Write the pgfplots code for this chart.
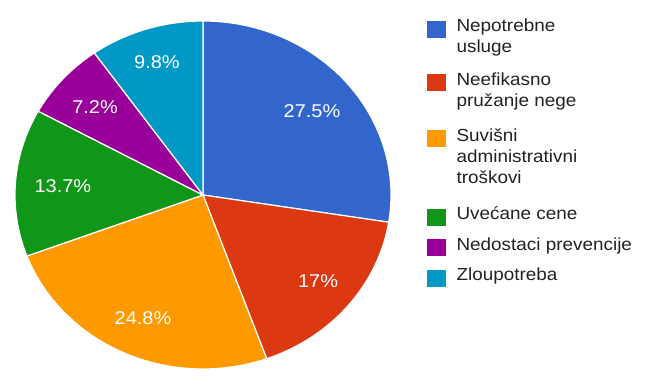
\documentclass[border=0pt]{standalone}
\usepackage{fontspec}
\setmainfont{Liberation Sans}[FakeStretch=1.08]
\usepackage{pgfplots}
\pgfplotsset{compat=1.18}
\definecolor{c1}{HTML}{3366CC}
\definecolor{c2}{HTML}{DC3912}
\definecolor{c3}{HTML}{FF9900}
\definecolor{c4}{HTML}{109618}
\definecolor{c5}{HTML}{990099}
\definecolor{c6}{HTML}{0099C6}
\definecolor{txt}{HTML}{222222}
\newcommand{\one}[1]{\vtop{\hbox{\strut #1}}}
\newcommand{\two}[2]{\vtop{\hbox{\strut #1}\hbox{\strut #2}}}
\newcommand{\three}[3]{\vtop{\hbox{\strut #1}\hbox{\strut #2}\hbox{\strut #3}}}
\pgfplotsset{
  sq/.style={legend image code/.code={\fill[##1, draw=none] (0bp,-6bp) rectangle (19bp,11bp); \path (0bp,-#1) -- (0bp,11bp);}},
}
\begin{document}
\begin{tikzpicture}
\begin{axis}[
  at={(15bp,20bp)}, anchor=south west,
  scale only axis, width=376bp, height=348bp,
  xmin=-1, xmax=1, ymin=-1, ymax=1,
  hide axis, clip=false,
  legend style={at={(axis cs:1.186,1.022)}, anchor=north west,
    draw=none, fill=none, inner sep=0pt, outer sep=0pt,
    row sep=9bp, column sep=11bp,
    font=\fontsize{17.5bp}{21bp}\selectfont,
    nodes={anchor=base west, inner sep=0pt, outer sep=0pt, text=txt}},
]
% slices: 27.5, 17, 24.8, 13.7, 7.2, 9.8 (%), clockwise from top
\addplot[fill=c1, draw=white, line width=1.2pt, domain=-9:90, samples=80, sq=29.3bp] ({cos(x)},{sin(x)}) -- (axis cs:0,0) -- cycle;
\addlegendentry{\two{Nepotrebne}{usluge}}
\addplot[fill=c2, draw=white, line width=1.2pt, domain=-70.2:-9, samples=60, sq=31.3bp] ({cos(x)},{sin(x)}) -- (axis cs:0,0) -- cycle;
\addlegendentry{\two{Neefikasno}{pružanje nege}}
\addplot[fill=c3, draw=white, line width=1.2pt, domain=-159.48:-70.2, samples=80, sq=54.3bp] ({cos(x)},{sin(x)}) -- (axis cs:0,0) -- cycle;
\addlegendentry{\three{Suvišni}{administrativni}{troškovi}}
\addplot[fill=c4, draw=white, line width=1.2pt, domain=-208.8:-159.48, samples=50, sq=6.3bp] ({cos(x)},{sin(x)}) -- (axis cs:0,0) -- cycle;
\addlegendentry{\one{Uvećane cene}}
\addplot[fill=c5, draw=white, line width=1.2pt, domain=-234.72:-208.8, samples=30, sq=6.3bp] ({cos(x)},{sin(x)}) -- (axis cs:0,0) -- cycle;
\addlegendentry{\one{Nedostaci prevencije}}
\addplot[fill=c6, draw=white, line width=1.2pt, domain=-270:-234.72, samples=40, sq=6.3bp] ({cos(x)},{sin(x)}) -- (axis cs:0,0) -- cycle;
\addlegendentry{\one{Zloupotreba}}
\begin{scope}[every node/.style={text=white, inner sep=0pt, font=\fontsize{18.5bp}{22bp}\selectfont}]
\node at (axis cs:0.580,0.483) {27.5\%};
\node at (axis cs:0.612,-0.494) {17\%};
\node at (axis cs:-0.319,-0.707) {24.8\%};
\node at (axis cs:-0.745,0.052) {13.7\%};
\node at (axis cs:-0.574,0.506) {7.2\%};
\node at (axis cs:-0.245,0.764) {9.8\%};
\end{scope}
\end{axis}
\pgfresetboundingbox
\path[use as bounding box] (0,0) rectangle (647bp,389bp);
\end{tikzpicture}
\end{document}
